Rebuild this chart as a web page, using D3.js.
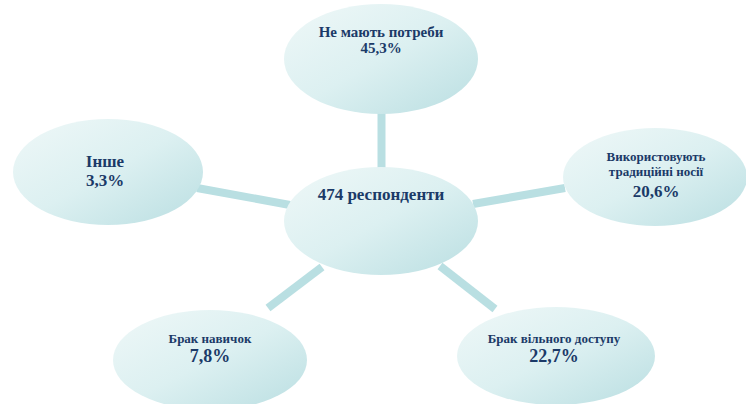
<!DOCTYPE html>
<html>
<head>
<meta charset="utf-8">
<script src="https://cdn.jsdelivr.net/npm/d3@7"></script>
<style>
  body { margin: 0; background: #fff; }
  svg { display: block; }
</style>
</head>
<body>
<svg id="chart" width="746" height="404"></svg>
<script>
'use strict';

// data
const centreLabel = '474 респонденти';
const categories = [
  ['Не мають потреби'],
  ['Використовують', 'традиційні носії'],
  ['Брак вільного доступу'],
  ['Брак навичок'],
  ['Інше'],
];
const shares = [45.3, 20.6, 22.7, 7.8, 3.3];

// layout of the bubbles (same order as categories)
const hub = { x: 381, y: 221, rx: 97, ry: 54 };
const spots = [
  { x: 381, y: 59, rx: 97, ry: 55, tx: 381, top: 37, small: 15, big: 15, gap: 16 },
  { x: 655, y: 177, rx: 92, ry: 49, tx: 656, top: 161, small: 13, big: 17, gap: 21 },
  { x: 556, y: 356, rx: 99, ry: 49, tx: 554, top: 343, small: 13, big: 18, gap: 19 },
  { x: 210, y: 360, rx: 97, ry: 50, tx: 210, top: 343, small: 13, big: 18, gap: 19 },
  { x: 108, y: 172, rx: 95, ry: 53, tx: 105, top: 167, small: 17, big: 17, gap: 19 },
];
// connector ends: [from hub, to bubble]
const links = [
  [[381.5, 168], [381.5, 112]],
  [[473, 204], [565, 188]],
  [[440, 266], [495, 309]],
  [[322, 267], [268, 308]],
  [[290, 205], [197, 188]],
];

const serif = '"Liberation Serif", "Times New Roman", serif';
const ink = '#1b3a68';
const fmt = (v) => d3.format('.1f')(v).replace('.', ',') + '%';

const svg = d3.select('#chart');

const grad = svg.append('defs')
  .append('linearGradient')
  .attr('id', 'bub')
  .attr('x1', 0).attr('y1', 0.1)
  .attr('x2', 0.9).attr('y2', 1);
grad.append('stop').attr('offset', '0%').attr('stop-color', '#edf7f7');
grad.append('stop').attr('offset', '50%').attr('stop-color', '#dcf0f1');
grad.append('stop').attr('offset', '100%').attr('stop-color', '#bde0e3');

// connectors under bubbles
svg.append('g')
  .selectAll('line')
  .data(links)
  .join('line')
  .attr('x1', (d) => d[0][0])
  .attr('y1', (d) => d[0][1])
  .attr('x2', (d) => d[1][0])
  .attr('y2', (d) => d[1][1])
  .attr('stroke', '#b9dfe2')
  .attr('stroke-width', 8);

// outer bubbles
const outer = svg.append('g')
  .selectAll('g')
  .data(categories.map((c, i) => ({ lines: c, value: shares[i], pos: spots[i] })))
  .join('g');

outer.append('ellipse')
  .attr('cx', (d) => d.pos.x)
  .attr('cy', (d) => d.pos.y)
  .attr('rx', (d) => d.pos.rx)
  .attr('ry', (d) => d.pos.ry)
  .attr('fill', 'url(#bub)');

outer.each(function (d) {
  const g = d3.select(this);
  d.lines.forEach((t, j) => {
    g.append('text')
      .attr('x', d.pos.tx)
      .attr('y', d.pos.top + j * 15)
      .attr('text-anchor', 'middle')
      .attr('font-family', serif)
      .attr('font-weight', 'bold')
      .attr('fill', ink)
      .attr('font-size', d.pos.small + 'px')
      .text(t);
  });
  g.append('text')
    .attr('x', d.pos.tx)
    .attr('y', d.pos.top + (d.lines.length - 1) * 15 + d.pos.gap)
    .attr('text-anchor', 'middle')
    .attr('font-family', serif)
    .attr('font-weight', 'bold')
    .attr('fill', ink)
    .attr('font-size', d.pos.big + 'px')
    .text(fmt(d.value));
});

// centre bubble
svg.append('ellipse')
  .attr('cx', hub.x)
  .attr('cy', hub.y)
  .attr('rx', hub.rx)
  .attr('ry', hub.ry)
  .attr('fill', 'url(#bub)');
svg.append('text')
  .attr('x', hub.x)
  .attr('y', 200)
  .attr('text-anchor', 'middle')
  .attr('font-family', serif)
  .attr('font-weight', 'bold')
  .attr('fill', ink)
  .attr('font-size', '17px')
  .text(centreLabel);
</script>
</body>
</html>
